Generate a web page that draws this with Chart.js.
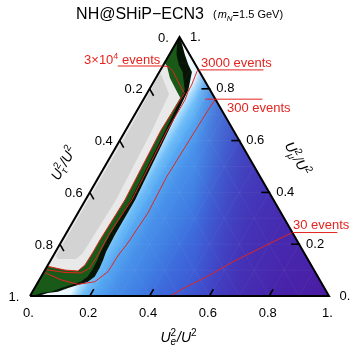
<!DOCTYPE html>
<html>
<head>
<meta charset="utf-8">
<script src="https://cdn.jsdelivr.net/npm/chart.js@4/dist/chart.umd.min.js"></script>
<style>
html,body{margin:0;padding:0;background:#fff;overflow:hidden;}
canvas{display:block;}
</style>
</head>
<body>
<canvas id="chart" width="350" height="346"></canvas>
<script>
// Every point is a ternary pair [U_e^2/U^2, U_mu^2/U^2]; U_tau^2/U^2 = 1 - e - mu
const axisTicks = [0, 0.2, 0.4, 0.6, 0.8, 1];
const axisTickLabels = ['0.', '0.2', '0.4', '0.6', '0.8', '1.'];
const triangle = [[0,0],[1,0],[0,1],[0,0]];

// outer edge of the dark (black) band
const darkBandEdge = [[0,1],[0.019,0.977],[0.053,0.9305],[0.084,0.892],[0.109,0.865],[0.132,0.795],[0.144,0.641],[0.166,0.371],[0.166,0.2355],[0.169,0.171],[0.175,0.139],[0.179,0.108],[0.179,0.0745],[0.166,0.055],[0.139,0.0425],[0.112,0.031],[0.085,0.0166],[0.054,0.0116],[0.027,0],[0,0],[0,1]];
// outer edge of the green band
const greenBandEdge = [[0,1],[0.003,0.977],[0.025,0.9305],[0.052,0.892],[0.078,0.865],[0.12,0.795],[0.133,0.641],[0.151,0.371],[0.149,0.2355],[0.151,0.171],[0.156,0.139],[0.158,0.108],[0.155,0.0745],[0.142,0.055],[0.115,0.0425],[0.089,0.031],[0.062,0.0166],[0.033,0.0116],[0.008,0],[0,0],[0,1]];
// excluded (gray) region
const grayRegion = [[0,0.9],[0.014,0.888],[0.047,0.842],[0.091,0.795],[0.12,0.765],[0.118,0.641],[0.132,0.371],[0.126,0.216],[0.126,0.170],[0.124,0.120],[0.112,0.0965],[0.067,0.100],[0.014,0.112],[0,0.116],[0,0.9]];
const grayCore = [[0.005,0.86],[0.02,0.845],[0.075,0.78],[0.088,0.641],[0.102,0.371],[0.096,0.216],[0.093,0.162],[0.082,0.143],[0.022,0.143],[0.010,0.154],[0.010,0.216],[0.010,0.371],[0.011,0.641],[0.005,0.86]];

// event-number contours
const contour3e4 = [[0,0.888],[0.02,0.886],[0.046,0.866],[0.082,0.827],[0.125,0.783],[0.118,0.641],[0.132,0.371],[0.126,0.216],[0.126,0.170],[0.124,0.120],[0.112,0.0965],[0.067,0.100],[0.014,0.112],[0,0.114]];
const contour3000 = [[0.127,0.873],[0.125,0.866],[0.128,0.847],[0.133,0.815],[0.134,0.789],[0.14,0.757],[0.139,0.641],[0.155,0.371],[0.145,0.236],[0.148,0.158],[0.146,0.108],[0.126,0.089],[0.072,0.091],[0,0.102]];
const contour300 = [[0.24,0.76],[0.235,0.68],[0.227,0.461],[0.234,0.32],[0.224,0.197],[0.218,0.166],[0.216,0.146],[0.214,0.094],[0.189,0.055],[0.138,0.045],[0.074,0.062],[0,0.092]];
const contour30 = [[0.755,0.245],[0.693,0.197],[0.613,0.132],[0.554,0.0745],[0.506,0.036],[0.468,0]];
const contourNames = ['3×10^4 events', '3000 events', '300 events', '30 events'];

const S3 = Math.sqrt(3);
const FONT = '"Liberation Sans", Arial, Helvetica, sans-serif';
const RED = '#e3241f';
const toXY = p => ({x: p[0] + p[1] / 2, y: p[1] * S3 / 2});

function baseGradient(c) {
  const ch = c.chart;
  if (!ch.chartArea || !ch.scales.x) return '#3c5ad2';
  const xs = ch.scales.x, ys = ch.scales.y;
  // along increasing U_e^2 (perpendicular to e = const lines)
  const g = ch.ctx.createLinearGradient(xs.getPixelForValue(0), ys.getPixelForValue(0),
                                        xs.getPixelForValue(0.75), ys.getPixelForValue(-S3 / 4));
  [[0,'#ffffff'],[0.13,'#e6f6ff'],[0.15,'#a6dafd'],[0.175,'#70bef8'],[0.21,'#56a8f2'],[0.27,'#4890ea'],
   [0.35,'#407fe3'],[0.42,'#3d6cdc'],[0.5,'#3d5dd5'],[0.6,'#3f4ccc'],[0.8,'#4436ba'],[1,'#4a1ca2']]
    .forEach(s => g.addColorStop(s[0], s[1]));
  return g;
}
function shadeGradient(c) {
  const ch = c.chart;
  if (!ch.chartArea || !ch.scales.x) return 'rgba(0,0,0,0)';
  const xs = ch.scales.x;
  const g = ch.ctx.createLinearGradient(xs.getPixelForValue(0), 0, xs.getPixelForValue(1), 0);
  [[0,0],[0.55,0],[0.65,0.28],[0.72,0.45],[0.85,0.52],[1,0.35]]
    .forEach(s => g.addColorStop(s[0], 'rgba(74,22,158,' + s[1] + ')'));
  return g;
}

function poly(points, extra) {
  return Object.assign({
    data: points.map(toXY), showLine: true, pointRadius: 0, pointHoverRadius: 0,
    tension: 0, borderWidth: 1, borderColor: 'rgba(0,0,0,0)', fill: false, clip: false
  }, extra);
}

const datasets = [
  poly(triangle, {fill: 'shape', backgroundColor: baseGradient, order: 22}),
  poly(triangle, {fill: 'shape', backgroundColor: shadeGradient, order: 21}),
  poly(darkBandEdge, {fill: 'shape', backgroundColor: '#051405', order: 19}),
  poly(greenBandEdge, {fill: 'shape', backgroundColor: '#195a19', order: 18}),
  poly(grayRegion, {fill: 'shape', backgroundColor: '#e9e9e9', order: 17}),
  poly(grayCore, {fill: 'shape', backgroundColor: '#d3d3d3', order: 16}),
  poly(contour3e4, {borderColor: RED, borderWidth: 1, order: 5}),
  poly(contour3000, {borderColor: RED, borderWidth: 1, order: 5}),
  poly(contour300, {borderColor: RED, borderWidth: 1, order: 5}),
  poly(contour30, {borderColor: RED, borderWidth: 1, order: 5}),
  poly(triangle, {borderColor: '#000', borderWidth: 2, order: 1, borderJoinStyle: 'miter'})
];

const contourSets = [contour3e4, contour3000, contour300, contour30];
const labelLayout = [
  {line: [-45, 0], tx: -2.5, ty: -2.5, align: 'right'},
  {line: [0, 65], tx: 2.5, ty: -2.5, align: 'left'},
  {line: [-10, 47], tx: 11.6, ty: 13.3, align: 'left'},
  {line: [0, 45], tx: 0.6, ty: -3.2, align: 'left'}
];

function drawEventLabel(ctx, text, x, y, align) {
  const m = text.match(/^(.*)\^(\d+)(.*)$/);
  const parts = m ? [{t: m[1], dy: 0, s: 13}, {t: m[2], dy: -5, s: 9}, {t: m[3], dy: 0, s: 13}]
                  : [{t: text, dy: 0, s: 13}];
  let w = 0;
  parts.forEach(p => { ctx.font = p.s + 'px ' + FONT; p.w = ctx.measureText(p.t).width; w += p.w; });
  let cx = align === 'right' ? x - w : x;
  ctx.textAlign = 'left'; ctx.textBaseline = 'alphabetic';
  parts.forEach(p => { ctx.font = p.s + 'px ' + FONT; ctx.fillText(p.t, cx, y + p.dy); cx += p.w; });
}

function drawUTitle(ctx, sub, cx, cy, angle) {
  const big = 'italic 14px ' + FONT, small = '10px ' + FONT, smallI = 'italic 10px ' + FONT;
  ctx.save();
  ctx.translate(cx, cy); ctx.rotate(angle);
  ctx.font = big; const wU = ctx.measureText('U').width, wSl = ctx.measureText('/').width;
  ctx.font = small; const w2 = ctx.measureText('2').width;
  ctx.font = smallI; const wS = ctx.measureText(sub).width;
  const wStack = Math.max(w2, wS);
  const total = wU + wStack + 1 + wSl + wU + w2;
  let x = -total / 2; const base = 5;
  ctx.fillStyle = '#000'; ctx.textAlign = 'left'; ctx.textBaseline = 'alphabetic';
  ctx.font = big; ctx.fillText('U', x, base); x += wU;
  ctx.font = small; ctx.fillText('2', x, base - 6);
  ctx.font = smallI; ctx.fillText(sub, x, base + 3);
  x += wStack + 1;
  ctx.font = big; ctx.fillText('/', x, base); x += wSl; ctx.fillText('U', x, base); x += wU;
  ctx.font = small; ctx.fillText('2', x, base - 6);
  ctx.restore();
}

const overlay = {
  id: 'overlay',
  beforeDatasetDraw(chart, args) {
    // faint ternary grid on top of the colour background (after the shade layer)
    if (args.index !== 2) return;
    const ctx = chart.ctx, xs = chart.scales.x, ys = chart.scales.y;
    const P = (e, mu) => ({x: xs.getPixelForValue(e + mu / 2), y: ys.getPixelForValue(mu * S3 / 2)});
    ctx.save();
    ctx.strokeStyle = 'rgba(255,255,255,0.045)'; ctx.lineWidth = 1;
    for (let k = 1; k < 10; k++) {
      const v = k / 10;
      [[P(v, 0), P(v, 1 - v)], [P(0, v), P(1 - v, v)], [P(0, 1 - v), P(1 - v, 0)]].forEach(s => {
        ctx.beginPath(); ctx.moveTo(s[0].x, s[0].y); ctx.lineTo(s[1].x, s[1].y); ctx.stroke();
      });
    }
    ctx.restore();
  },
  afterDatasetsDraw(chart) {
    const ctx = chart.ctx, xs = chart.scales.x, ys = chart.scales.y;
    const P = (e, mu) => ({x: xs.getPixelForValue(e + mu / 2), y: ys.getPixelForValue(mu * S3 / 2)});
    ctx.save();
    // ticks
    ctx.strokeStyle = '#000'; ctx.lineWidth = 1.6; ctx.lineCap = 'butt';
    const L = 8;
    axisTicks.forEach(v => {
      if (v <= 0 || v >= 1) return;
      let p = P(v, 0);               // bottom: U_e
      ctx.beginPath(); ctx.moveTo(p.x, p.y); ctx.lineTo(p.x + 0.5 * L, p.y - 0.866 * L); ctx.stroke();
      p = P(0, 1 - v);               // left: U_tau
      ctx.beginPath(); ctx.moveTo(p.x, p.y); ctx.lineTo(p.x + 0.5 * L, p.y + 0.866 * L); ctx.stroke();
      p = P(1 - v, v);               // right: U_mu
      ctx.beginPath(); ctx.moveTo(p.x + 1, p.y); ctx.lineTo(p.x - L, p.y); ctx.stroke();
    });
    // tick labels
    ctx.fillStyle = '#000'; ctx.font = '13px ' + FONT; ctx.textAlign = 'center'; ctx.textBaseline = 'middle';
    axisTicks.forEach((v, i) => {
      let p = P(v, 0); ctx.fillText(axisTickLabels[i], p.x - 1.5, p.y + 17);
      p = P(0, 1 - v); ctx.fillText(axisTickLabels[i], p.x - 16, p.y + 1);
      p = P(1 - v, v); ctx.fillText(axisTickLabels[i], p.x + 16, p.y);
    });
    // axis titles
    let m = P(0.5, 0); drawUTitle(ctx, 'e', m.x - 1, m.y + 40.5, 0);
    m = P(0, 0.5); drawUTitle(ctx, 'τ', m.x - 41.5, m.y - 3.5, -Math.PI / 3);
    m = P(0.5, 0.5); drawUTitle(ctx, 'μ', m.x + 43.5, m.y - 8, Math.PI / 3);
    // contour labels
    ctx.fillStyle = RED; ctx.strokeStyle = RED; ctx.lineWidth = 1;
    contourSets.forEach((c, i) => {
      const a = P(c[0][0], c[0][1]), lay = labelLayout[i];
      ctx.beginPath(); ctx.moveTo(a.x + lay.line[0], a.y); ctx.lineTo(a.x + lay.line[1], a.y); ctx.stroke();
      drawEventLabel(ctx, contourNames[i], a.x + lay.tx, a.y + lay.ty, lay.align);
    });
    // title
    ctx.fillStyle = '#000'; ctx.textBaseline = 'alphabetic'; ctx.textAlign = 'center';
    ctx.font = '16px ' + FONT; ctx.fillText('NH@SHiP\u2212ECN3', 140, 18.5);
    ctx.textAlign = 'left';
    let x = 213;
    const seg = [['(', '11px ', 0], ['m', 'italic 11px ', 0], ['N', 'italic 8px ', 3], ['=1.5 GeV)', '11px ', 0]];
    seg.forEach(s => { ctx.font = s[1] + FONT; ctx.fillText(s[0], x, 17.5 + s[2]); x += ctx.measureText(s[0]).width + (s[0] === '(' ? 1 : 0); });
    ctx.restore();
  }
};

new Chart(document.getElementById('chart'), {
  type: 'scatter',
  data: {datasets},
  options: {
    responsive: false, animation: false, devicePixelRatio: 1,
    layout: {padding: {left: 30, right: 21, top: 37, bottom: 50}},
    scales: {
      x: {type: 'linear', min: 0, max: 1, display: false},
      y: {type: 'linear', min: 0, max: S3 / 2, display: false}
    },
    plugins: {legend: {display: false}, tooltip: {enabled: false}, title: {display: false}},
    events: []
  },
  plugins: [overlay]
});
</script>
</body>
</html>
